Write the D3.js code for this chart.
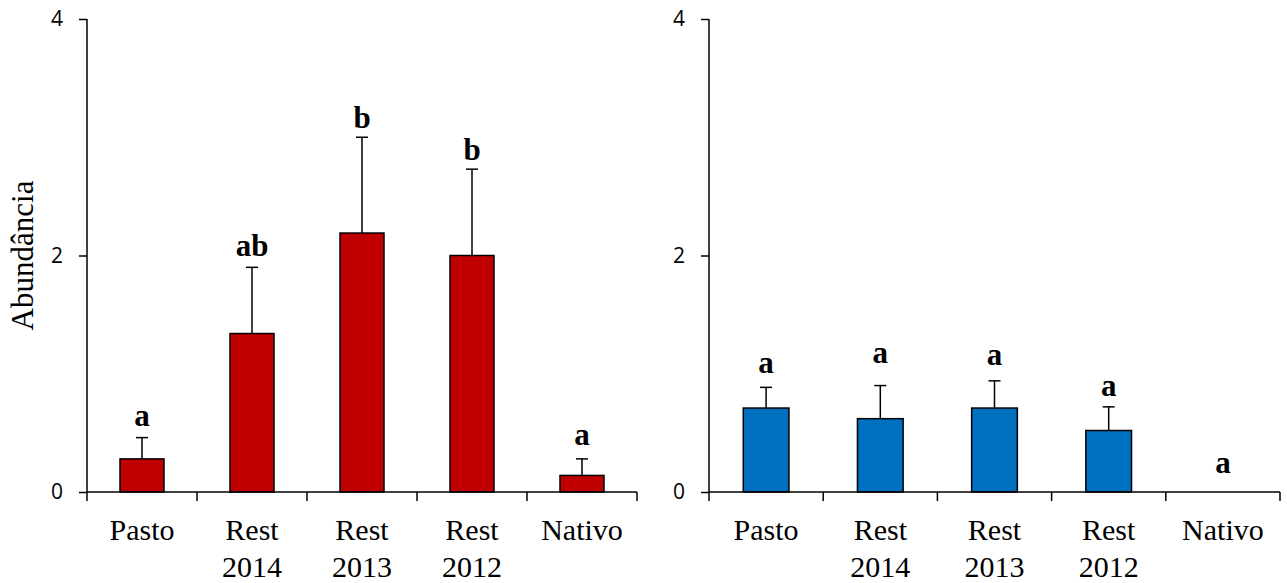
<!DOCTYPE html>
<html><head><meta charset="utf-8">
<script src="https://cdn.jsdelivr.net/npm/d3@7"></script>
<style>body{margin:0;background:#fff}</style>
</head><body>
<svg id="chart" width="1287" height="583"></svg>
<script>
const categories = ["Pasto", "Rest 2014", "Rest 2013", "Rest 2012", "Nativo"];
const leftMeans = [0.28, 1.34, 2.19, 2.0, 0.14];
const leftSE = [0.18, 0.56, 0.81, 0.73, 0.14];
const leftLetters = ["a", "ab", "b", "b", "a"];
const leftLetterAt = [0.555, 2.0, 3.08, 2.81, 0.40];
const rightMeans = [0.71, 0.62, 0.71, 0.52, 0];
const rightSE = [0.175, 0.28, 0.23, 0.20, 0];
const rightLetters = ["a", "a", "a", "a", "a"];
const rightLetterAt = [1.01, 1.09, 1.077, 0.81, 0.163];
const yTicks = [0, 2, 4];
const yTitle = "Abundância";

const svg = d3.select("#chart");
const plotTop = 19, plotBottom = 492;
const y = d3.scaleLinear().domain([0, 4]).range([plotBottom, plotTop]);

function panel(x0, x1, means, se, letters, letterAt, color) {
  const g = svg.append("g");
  const x = d3.scaleBand().domain(categories).range([x0, x1]).paddingInner(0.6).paddingOuter(0.3);
  const step = x.step();
  const outer = step * 0.3;
  g.selectAll("rect.bar").data(categories).join("rect")
    .attr("x", d => x(d)).attr("width", x.bandwidth())
    .attr("y", (d, i) => y(means[i])).attr("height", (d, i) => y(0) - y(means[i]))
    .attr("fill", color).attr("stroke", "#000").attr("stroke-width", 1.5);
  const cap = 6;
  categories.forEach((c, i) => {
    if (se[i] <= 0) return;
    const cx = x(c) + x.bandwidth() / 2;
    g.append("line").attr("x1", cx).attr("x2", cx).attr("y1", y(means[i])).attr("y2", y(means[i] + se[i]))
      .attr("stroke", "#000").attr("stroke-width", 1.5);
    g.append("line").attr("x1", cx - cap).attr("x2", cx + cap).attr("y1", y(means[i] + se[i])).attr("y2", y(means[i] + se[i]))
      .attr("stroke", "#000").attr("stroke-width", 1.5);
  });
  g.selectAll("text.let").data(categories).join("text")
    .attr("x", d => x(d) + x.bandwidth() / 2)
    .attr("y", (d, i) => y(letterAt[i]))
    .attr("text-anchor", "middle")
    .style("font-family", "'Liberation Serif','Times New Roman',serif")
    .style("font-weight", "bold").style("font-size", "31px")
    .text((d, i) => letters[i]);
  const ya = g.append("g").attr("transform", `translate(${x0},0)`)
    .call(d3.axisLeft(y).tickValues(yTicks).tickSize(8).tickPadding(16).tickFormat(d3.format("d")));
  ya.attr("font-size", null).attr("font-family", null);
  ya.select(".domain").attr("stroke-width", 1.5).attr("d", `M0,${plotTop}V${plotBottom}`);
  ya.selectAll(".tick line").attr("stroke-width", 1.5);
  ya.selectAll(".tick text")
    .style("font-family", "'Open Sans','Noto Sans',sans-serif")
    .style("font-size", "21px").attr("fill", "#000");
  g.append("line").attr("x1", x0).attr("x2", x1).attr("y1", plotBottom).attr("y2", plotBottom)
    .attr("stroke", "#000").attr("stroke-width", 1.5);
  for (let k = 0; k <= categories.length; k++) {
    const tx = k === categories.length ? x1 : x(categories[k]) - outer;
    g.append("line").attr("x1", tx).attr("x2", tx).attr("y1", plotBottom).attr("y2", plotBottom + 9)
      .attr("stroke", "#000").attr("stroke-width", 1.5);
  }
  categories.forEach(c => {
    const t = g.append("text").attr("text-anchor", "middle")
      .style("font-family", "'Liberation Serif','Times New Roman',serif").style("font-size", "30px").attr("fill", "#000");
    c.split(" ").forEach((p, j) => {
      t.append("tspan").attr("x", x(c) + x.bandwidth() / 2).attr("y", 540 + j * 36.5).text(p);
    });
  });
}

panel(87, 637, leftMeans, leftSE, leftLetters, leftLetterAt, "#C00000");
panel(709, 1280, rightMeans, rightSE, rightLetters, rightLetterAt, "#0070C0");

svg.append("text").attr("transform", `translate(33,${y(2)}) rotate(-90)`)
  .attr("text-anchor", "middle")
  .style("font-family", "'Liberation Serif','Times New Roman',serif").style("font-size", "31px")
  .text(yTitle);
</script>
</body></html>
